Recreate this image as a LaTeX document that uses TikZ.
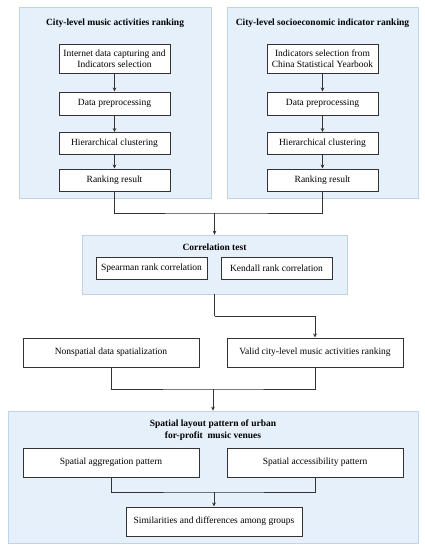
\documentclass[tikz,border=0pt]{standalone}
\usepackage{fontspec}
\setmainfont{Liberation Serif}
\usetikzlibrary{arrows.meta}
\definecolor{panelfill}{HTML}{E6F0FB}
\definecolor{paneldraw}{HTML}{BFD3EC}
\definecolor{linec}{HTML}{333333}
\begin{document}
\begin{tikzpicture}[x=1pt,y=-1pt,
  panel/.style={draw=paneldraw,fill=panelfill,line width=0.8pt,inner sep=0pt},
  stepbox/.style={draw=linec,fill=white,line width=1pt,inner sep=1pt,align=center,font=\fontsize{9.5}{11}\selectfont},
  ttl/.style={font=\fontsize{9.5}{11.5}\selectfont\bfseries,align=center,inner sep=0pt},
  conn/.style={draw=linec,line width=1pt},
  arr/.style={conn,-{Stealth[length=4pt,width=3.8pt]}}]
\useasboundingbox (0,0) rectangle (425,550);
% panels
\node[panel,minimum width=192pt,minimum height=191pt] (pl) at (115,102.5) {};
\node[panel,minimum width=191pt,minimum height=191pt] (pr) at (322.5,102.5) {};
\node[ttl] (tl) at (115,23) {City-level music activities ranking};
\node[ttl] (tr) at (322.5,23) {City-level socioeconomic indicator ranking};
% left column
\node[stepbox,minimum width=111pt,minimum height=29pt] (l1) at (114.5,58.5) {Internet data capturing and\\Indicators selection};
\node[stepbox,minimum width=111pt,minimum height=23pt] (l2) at (114.5,103.5) {Data preprocessing};
\node[stepbox,minimum width=111pt,minimum height=22pt] (l3) at (114.5,143.5) {Hierarchical clustering};
\node[stepbox,minimum width=111pt,minimum height=22pt] (l4) at (114.5,180) {Ranking result};
% right column
\node[stepbox,minimum width=111pt,minimum height=29pt] (r1) at (322.5,58.5) {Indicators selection from\\China Statistical Yearbook};
\node[stepbox,minimum width=111pt,minimum height=23pt] (r2) at (322.5,103.5) {Data preprocessing};
\node[stepbox,minimum width=111pt,minimum height=22pt] (r3) at (322.5,143.5) {Hierarchical clustering};
\node[stepbox,minimum width=111pt,minimum height=22pt] (r4) at (322.5,180) {Ranking result};
\draw[arr] (l1) -- (l2);
\draw[arr] (l2) -- (l3);
\draw[arr] (l3) -- (l4);
\draw[arr] (r1) -- (r2);
\draw[arr] (r2) -- (r3);
\draw[arr] (r3) -- (r4);
% correlation panel
\node[panel,minimum width=265pt,minimum height=59pt] (pc) at (214.5,264.5) {};
\node[ttl] (tc) at (214.5,247) {Correlation test};
\node[stepbox,minimum width=111pt,minimum height=22pt] (sp) at (151.5,268) {Spearman rank correlation};
\node[stepbox,minimum width=111pt,minimum height=22pt] (kd) at (276.5,268) {Kendall rank correlation};
\coordinate (m1) at (214.5,213);
\draw[conn] (l4.south) |- (m1) -| (r4.south);
\draw[arr] (m1) -- (pc.north);
% middle row
\node[stepbox,minimum width=176pt,minimum height=29pt] (ns) at (111,352.5) {Nonspatial data spatialization};
\node[stepbox,minimum width=176pt,minimum height=29pt] (vd) at (315,352.5) {Valid city-level music activities ranking};
\coordinate (m2) at (214.5,316);
\draw[conn] (pc.south) -- (m2);
\draw[arr] (m2) -| (vd.north);
% bottom panel
\node[panel,minimum width=410pt,minimum height=132pt] (pb) at (213,477) {};
\node[ttl] (tb) at (213,430) {Spatial layout pattern of urban\\for-profit\ \ music venues};
\node[stepbox,minimum width=176pt,minimum height=29pt] (ag) at (111,462.5) {Spatial aggregation pattern};
\node[stepbox,minimum width=176pt,minimum height=29pt] (ac) at (315,462.5) {Spatial accessibility pattern};
\node[stepbox,minimum width=176pt,minimum height=29pt] (sm) at (214,521.5) {Similarities and differences among groups};
\coordinate (m3) at (213,389);
\draw[conn] (ns.south) |- (m3) -| (vd.south);
\draw[arr] (m3) -- (pb.north);
\coordinate (m4) at (214,492);
\draw[conn] (ag.south) |- (m4) -| (ac.south);
\draw[arr] (m4) -- (sm.north);
\end{tikzpicture}
\end{document}
